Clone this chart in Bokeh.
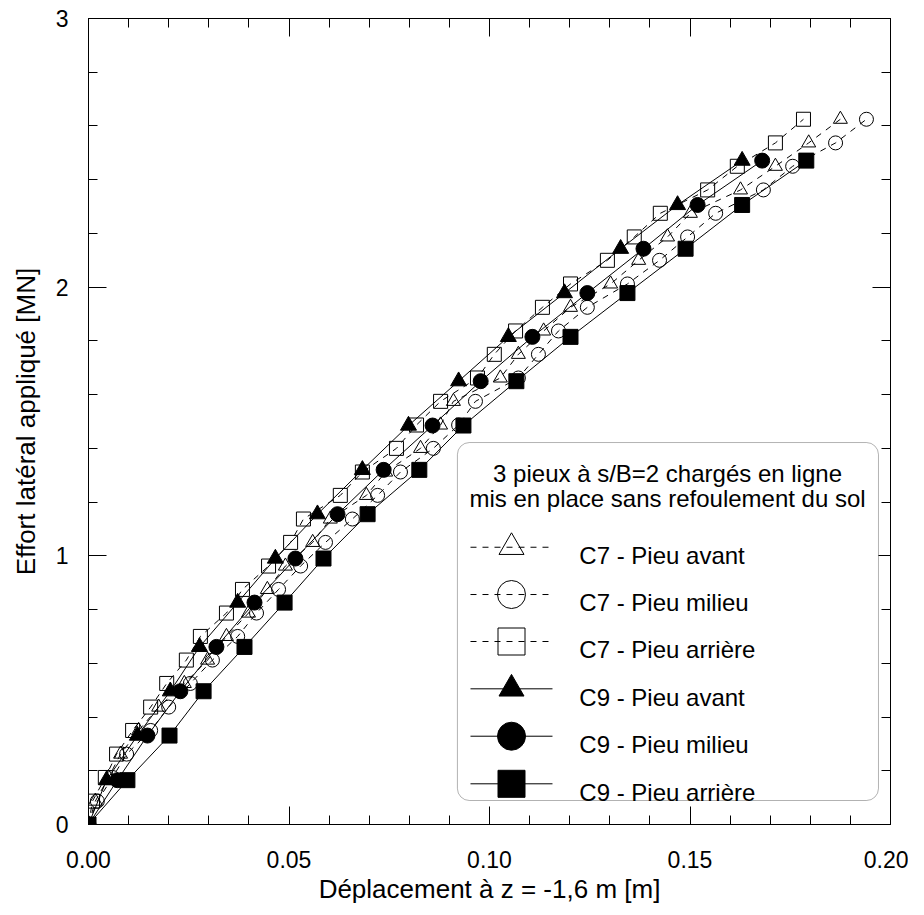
from bokeh.plotting import figure
from bokeh.models import (Range1d, FixedTicker, LinearAxis, BoxAnnotation, Label,
                          NumeralTickFormatter, CustomJSTickFormatter)
from bokeh.embed import file_html
from bokeh.resources import INLINE

# ---------------- data ----------------
c7_y = [0, 0.087, 0.175, 0.262, 0.350, 0.437, 0.525, 0.612, 0.700, 0.787, 0.875,
        0.962, 1.050, 1.137, 1.225, 1.312, 1.400, 1.487, 1.575, 1.662, 1.750,
        1.837, 1.925, 2.012, 2.100, 2.187, 2.275, 2.362, 2.450, 2.537, 2.625]
c7_avant_x = [0, 0.0017, 0.0050, 0.0080, 0.0125, 0.0175, 0.0239, 0.0297, 0.0344, 0.0399, 0.0446,
              0.0491, 0.0559, 0.0603, 0.0693, 0.0741, 0.0828, 0.0878, 0.0910, 0.1027, 0.1072,
              0.1135, 0.1202, 0.1302, 0.1372, 0.1444, 0.1501, 0.1626, 0.1713, 0.1796, 0.1875]
c7_milieu_x = [0, 0.0022, 0.0060, 0.0095, 0.0155, 0.0200, 0.0254, 0.0309, 0.0372, 0.0419, 0.0474,
               0.0529, 0.0591, 0.0658, 0.0721, 0.0778, 0.0860, 0.0923, 0.0965, 0.1072, 0.1122,
               0.1172, 0.1244, 0.1344, 0.1424, 0.1494, 0.1564, 0.1683, 0.1756, 0.1863, 0.1940]
c7_arriere_x = [0, 0.0010, 0.0042, 0.0070, 0.0110, 0.0155, 0.0195, 0.0244, 0.0279, 0.0344, 0.0384,
                0.0449, 0.0504, 0.0536, 0.0628, 0.0683, 0.0768, 0.0818, 0.0878, 0.0970, 0.1012,
                0.1065, 0.1132, 0.1202, 0.1294, 0.1361, 0.1426, 0.1544, 0.1618, 0.1713, 0.1783]

c9_y = [0, 0.165, 0.331, 0.496, 0.661, 0.826, 0.990, 1.155, 1.320, 1.485, 1.650,
        1.815, 1.978, 2.143, 2.306, 2.471]
c9_avant_x = [0, 0.0045, 0.0122, 0.0204, 0.0277, 0.0372, 0.0466, 0.0571, 0.0683, 0.0798,
              0.0923, 0.1047, 0.1187, 0.1327, 0.1469, 0.1630]
c9_milieu_x = [0, 0.0072, 0.0147, 0.0229, 0.0319, 0.0414, 0.0516, 0.0621, 0.0736, 0.0858,
               0.0978, 0.1107, 0.1244, 0.1384, 0.1519, 0.1680]
c9_arriere_x = [0, 0.0097, 0.0202, 0.0287, 0.0389, 0.0489, 0.0586, 0.0696, 0.0825, 0.0935,
                0.1067, 0.1202, 0.1344, 0.1489, 0.1630, 0.1790]

legend_title = ["3 pieux à s/B=2 chargés en ligne", "mis en place sans refoulement du sol"]
legend_labels = ["C7 - Pieu avant", "C7 - Pieu milieu", "C7 - Pieu arrière",
                 "C9 - Pieu avant", "C9 - Pieu milieu", "C9 - Pieu arrière"]
x_ticks = [0, 0.05, 0.10, 0.15, 0.20]
x_minor = [0.01, 0.02, 0.03, 0.04, 0.06, 0.07, 0.08, 0.09, 0.11, 0.12, 0.13, 0.14,
           0.16, 0.17, 0.18, 0.19]
y_ticks = [0, 1, 2, 3]
y_minor = [0.2, 0.4, 0.6, 0.8, 1.2, 1.4, 1.6, 1.8, 2.2, 2.4, 2.6, 2.8]

FONT = "Liberation Sans"

# ---------------- figure ----------------
p = figure(frame_width=802, frame_height=806, output_backend="svg", toolbar_location=None,
           x_range=Range1d(0, 0.2), y_range=Range1d(0, 3),
           min_border_left=88, min_border_right=18, min_border_top=18, min_border_bottom=84,
           x_axis_label="Déplacement à z = -1,6 m [m]",
           y_axis_label="Effort latéral appliqué [MN]")
p.grid.visible = False
p.outline_line_color = "black"
p.background_fill_color = "white"
p.border_fill_color = "white"

xt = FixedTicker(ticks=x_ticks, minor_ticks=x_minor)
yt = FixedTicker(ticks=y_ticks, minor_ticks=y_minor)

def style_axis(ax):
    ax.major_tick_in = 18
    ax.major_tick_out = 0
    ax.minor_tick_in = 9
    ax.minor_tick_out = 0
    ax.axis_line_color = "black"
    ax.major_tick_line_color = "black"
    ax.minor_tick_line_color = "black"
    ax.major_label_text_font = FONT
    ax.major_label_text_font_size = "23px"
    ax.major_label_text_color = "black"
    ax.axis_label_text_font = FONT
    ax.axis_label_text_font_size = "26px"
    ax.axis_label_text_font_style = "normal"
    ax.axis_label_text_color = "black"

xa = p.xaxis[0]
xa.ticker = xt
xa.formatter = NumeralTickFormatter(format="0.00")
style_axis(xa)
xa.major_label_standoff = 26
xa.axis_label_standoff = 3

ya = p.yaxis[0]
ya.ticker = yt
ya.formatter = NumeralTickFormatter(format="0")
style_axis(ya)
ya.major_label_standoff = 20
ya.axis_label_standoff = 12

blank = CustomJSTickFormatter(code="return ''")
top = LinearAxis(ticker=FixedTicker(ticks=x_ticks, minor_ticks=x_minor), formatter=blank)
style_axis(top)
top.major_label_standoff = 0
p.add_layout(top, "above")
right = LinearAxis(ticker=FixedTicker(ticks=y_ticks, minor_ticks=y_minor), formatter=blank)
style_axis(right)
right.major_label_standoff = 0
p.add_layout(right, "right")

# ---------------- series ----------------
DASH = "6 6"
series = [
    (c7_avant_x, c7_y, "triangle", DASH, None, 14),
    (c7_milieu_x, c7_y, "circle", DASH, None, 14),
    (c7_arriere_x, c7_y, "square", DASH, None, 14),
    (c9_avant_x, c9_y, "triangle", "solid", "black", 16),
    (c9_milieu_x, c9_y, "circle", "solid", "black", 15),
    (c9_arriere_x, c9_y, "square", "solid", "black", 15),
]
for xs, ys, mk, dash, fill, sz in series:
    p.line(xs, ys, line_color="black", line_width=1, line_dash=dash)
    p.scatter(xs, ys, marker=mk, size=sz, fill_color=fill, line_color="black", line_width=1)

# ---------------- legend (drawn by hand) ----------------
LEG_LEFT, LEG_RIGHT, LEG_BOTTOM, LEG_TOP = 0.0920, 0.1970, 0.0893, 1.4217
box = BoxAnnotation(left=LEG_LEFT, right=LEG_RIGHT, bottom=LEG_BOTTOM, top=LEG_TOP,
                    fill_color="white", fill_alpha=1.0, line_color="black", line_width=1,
                    border_radius=12, level="annotation")
p.add_layout(box)

TITLE_X = 0.1444
TITLE_Y = [1.3074, 1.2121]
for txt, ty in zip(legend_title, TITLE_Y):
    p.add_layout(Label(x=TITLE_X, y=ty, text=txt, text_align="center", text_baseline="alphabetic",
                       text_font=FONT, text_font_size="24px", text_color="black", level="overlay"))

ROW_Y = [1.0320, 0.8560, 0.6811, 0.5050, 0.3286, 0.1515]
ROW_BASE = [1.0011, 0.8251, 0.6502, 0.4738, 0.2977, 0.1202]
SAMPLE_X0, SAMPLE_X1, SAMPLE_XM, TEXT_X = 0.09526, 0.11571, 0.10549, 0.1224
leg_style = [("triangle", DASH, None, 25), ("circle", DASH, None, 28), ("square", DASH, None, 27),
             ("triangle", "solid", "black", 25), ("circle", "solid", "black", 28),
             ("square", "solid", "black", 27)]
for (mk, dash, fill, sz), ry, rb, lab in zip(leg_style, ROW_Y, ROW_BASE, legend_labels):
    p.line([SAMPLE_X0, SAMPLE_X1], [ry, ry], line_color="black", line_width=1, line_dash=dash,
           level="overlay")
    p.scatter([SAMPLE_XM], [ry], marker=mk, size=sz, fill_color=fill, line_color="black",
              line_width=1, level="overlay")
    p.add_layout(Label(x=TEXT_X, y=rb, text=lab, text_align="left", text_baseline="alphabetic",
                       text_font=FONT, text_font_size="24px", text_color="black", level="overlay"))

open("out.html", "w").write(file_html(p, INLINE))
